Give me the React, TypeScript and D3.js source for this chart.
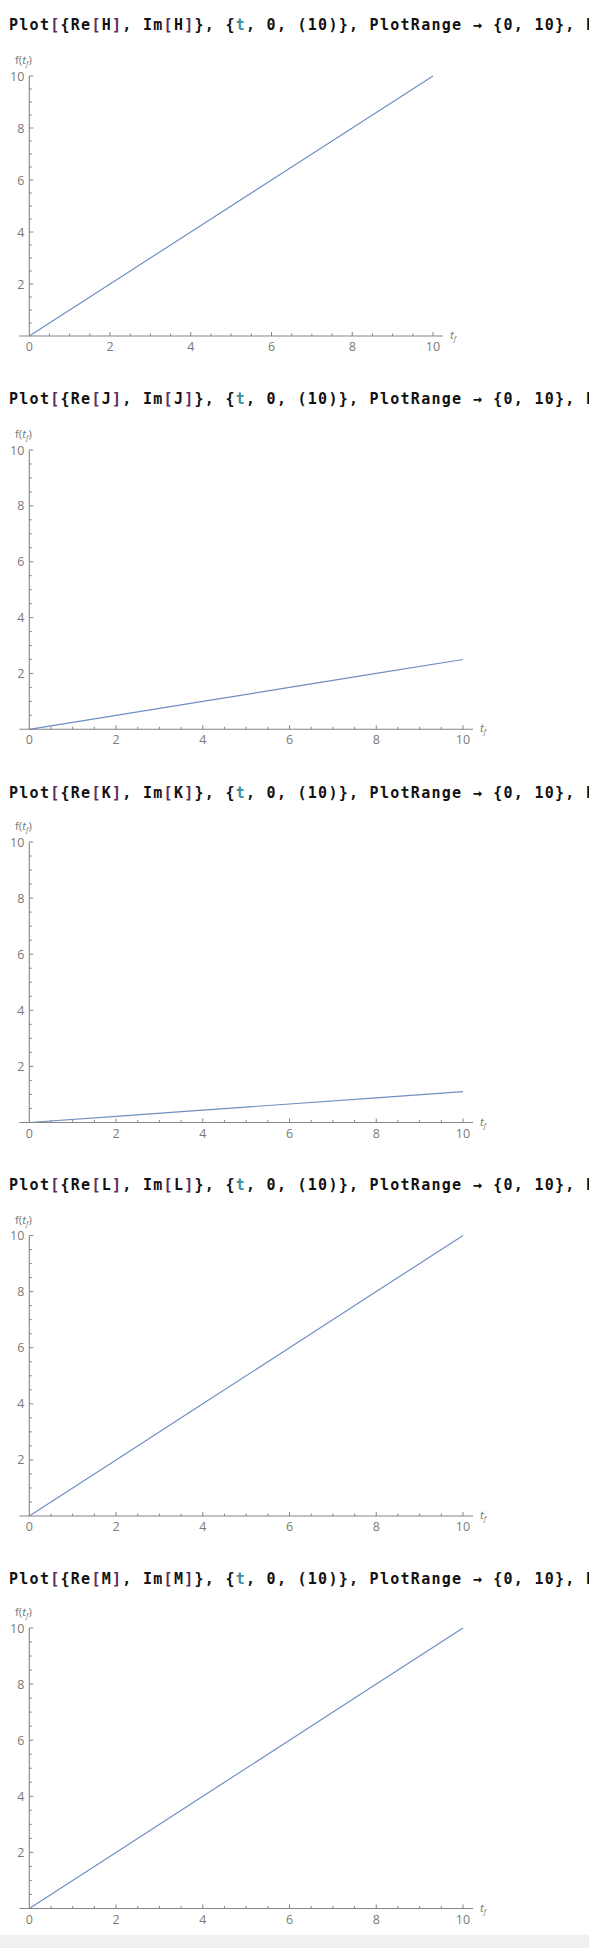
import React from "react";
import * as d3 from "d3";

// ---- data ----
const panelNames = ["H", "J", "K", "L", "M"];
const tValues = [0, 2, 4, 6, 8, 10];
const seriesH = [0, 2, 4, 6, 8, 10];
const seriesJ = [0, 0.5, 1, 1.5, 2, 2.5];
const seriesK = [0, 0.22, 0.44, 0.66, 0.88, 1.1];
const seriesL = [0, 2, 4, 6, 8, 10];
const seriesM = [0, 2, 4, 6, 8, 10];
const seriesList = [seriesH, seriesJ, seriesK, seriesL, seriesM];
const xTickValues = [0, 2, 4, 6, 8, 10];
const yTickValues = [2, 4, 6, 8, 10];
const xDomain = [0, 10];
const yDomain = [0, 10];

// ---- layout ----
const W = 589;
const H = 1948;
const layouts = [
  { title: 24, x0: 29.3, x1: 433, yTop: 76, yBot: 336 },
  { title: 398, x0: 29.3, x1: 463, yTop: 450, yBot: 729.3 },
  { title: 792, x0: 29.3, x1: 463, yTop: 842, yBot: 1122.5 },
  { title: 1184, x0: 29.3, x1: 463, yTop: 1235.5, yBot: 1516 },
  { title: 1578, x0: 29.3, x1: 463, yTop: 1628, yBot: 1908.5 },
];

const AXIS = "#858585";
const LABEL = "#7a7a7a";
const LINE = "#6f8fc2";
const BR = "#5b2d5b";
const TEAL = "#3b8ea3";

function Title({ y, name }: { y: number; name: string }) {
  return (
    <text
      x={9}
      y={y + 5.5}
      fontFamily="'DejaVu Sans Mono', monospace"
      fontWeight="bold"
      fontSize={15}
      letterSpacing={1.27}
      fill="#111"
    >
      <tspan>Plot</tspan>
      <tspan fill={BR}>[</tspan>
      <tspan>{"{Re"}</tspan>
      <tspan fill={BR}>[</tspan>
      <tspan>{name}</tspan>
      <tspan fill={BR}>]</tspan>
      <tspan>{", Im"}</tspan>
      <tspan fill={BR}>[</tspan>
      <tspan>{name}</tspan>
      <tspan fill={BR}>]</tspan>
      <tspan>{"}, {"}</tspan>
      <tspan fill={TEAL}>t</tspan>
      <tspan>{", 0, (10)}, PlotRange \u2192 {0, 10}, PlotStyle"}</tspan>
    </text>
  );
}

function Panel({ idx }: { idx: number }) {
  const L = layouts[idx];
  const x = d3.scaleLinear().domain(xDomain).range([L.x0, L.x1]);
  const y = d3.scaleLinear().domain(yDomain).range([L.yBot, L.yTop]);
  const data = tValues.map((t, i) => [t, seriesList[idx][i]] as [number, number]);
  const line = d3
    .line<[number, number]>()
    .x((d) => x(d[0]))
    .y((d) => y(d[1]));
  const minor = d3.range(0, 10.001, 0.5);
  const yAxisX = x(0);
  const xAxisY = y(0);
  return (
    <g>
      <Title y={L.title} name={panelNames[idx]} />
      {/* line */}
      <path d={line(data) || ""} fill="none" stroke={LINE} strokeWidth={1.2} />
      {/* x axis */}
      <line x1={x(0) - 10} x2={x(10) + 10} y1={xAxisY} y2={xAxisY} stroke={AXIS} strokeWidth={1.1} />
      {minor.map((v) => {
        const major = Math.abs(v % 2) < 1e-6;
        if (v === 0) return null;
        return (
          <line
            key={"xm" + v}
            x1={x(v)}
            x2={x(v)}
            y1={xAxisY}
            y2={xAxisY - (major ? 4 : 2.5)}
            stroke={AXIS}
            strokeWidth={1}
          />
        );
      })}
      {xTickValues.map((v) => (
        <text
          key={"xl" + v}
          x={x(v)}
          y={xAxisY + 15}
          textAnchor="middle"
          fontFamily="'Open Sans', sans-serif"
          fontSize={12.5}
          fill={LABEL}
        >
          {v}
        </text>
      ))}
      {/* y axis */}
      <line x1={yAxisX} x2={yAxisX} y1={y(0)} y2={y(10)} stroke={AXIS} strokeWidth={1.1} />
      {minor.map((v) => {
        const major = Math.abs(v % 2) < 1e-6;
        if (v === 0) return null;
        return (
          <line
            key={"ym" + v}
            x1={yAxisX}
            x2={yAxisX + (major ? 4 : 2.5)}
            y1={y(v)}
            y2={y(v)}
            stroke={AXIS}
            strokeWidth={1}
          />
        );
      })}
      {yTickValues.map((v) => (
        <text
          key={"yl" + v}
          x={yAxisX - 5}
          y={y(v) + 4.5}
          textAnchor="end"
          fontFamily="'Open Sans', sans-serif"
          fontSize={12.5}
          fill={LABEL}
        >
          {v}
        </text>
      ))}
      {/* axis labels */}
      <text
        x={15}
        y={y(10) - 12}
        fontFamily="'Open Sans', sans-serif"
        fontSize={11.5}
        fill={LABEL}
      >
        f(
        <tspan fontStyle="italic">t</tspan>
        <tspan fontStyle="italic" fontSize={7.5} dy={2}>f</tspan>
        <tspan dy={-2}>)</tspan>
      </text>
      <text
        x={x(10) + 17}
        y={xAxisY + 3}
        fontFamily="'Open Sans', sans-serif"
        fontSize={11.5}
        fill={LABEL}
      >
        <tspan fontStyle="italic">t</tspan>
        <tspan fontStyle="italic" fontSize={7.5} dy={2}>f</tspan>
      </text>
    </g>
  );
}

export default function App() {
  return (
    <div style={{ position: "absolute", left: 0, top: 0, width: W, height: H, background: "#fff" }}>
      <svg width={W} height={H} style={{ display: "block" }}>
        <rect x={0} y={0} width={W} height={H} fill="#fff" />
        <rect x={0} y={1935} width={W} height={H - 1935} fill="#f0f0f0" />
        {panelNames.map((_, i) => (
          <Panel key={i} idx={i} />
        ))}
      </svg>
    </div>
  );
}
